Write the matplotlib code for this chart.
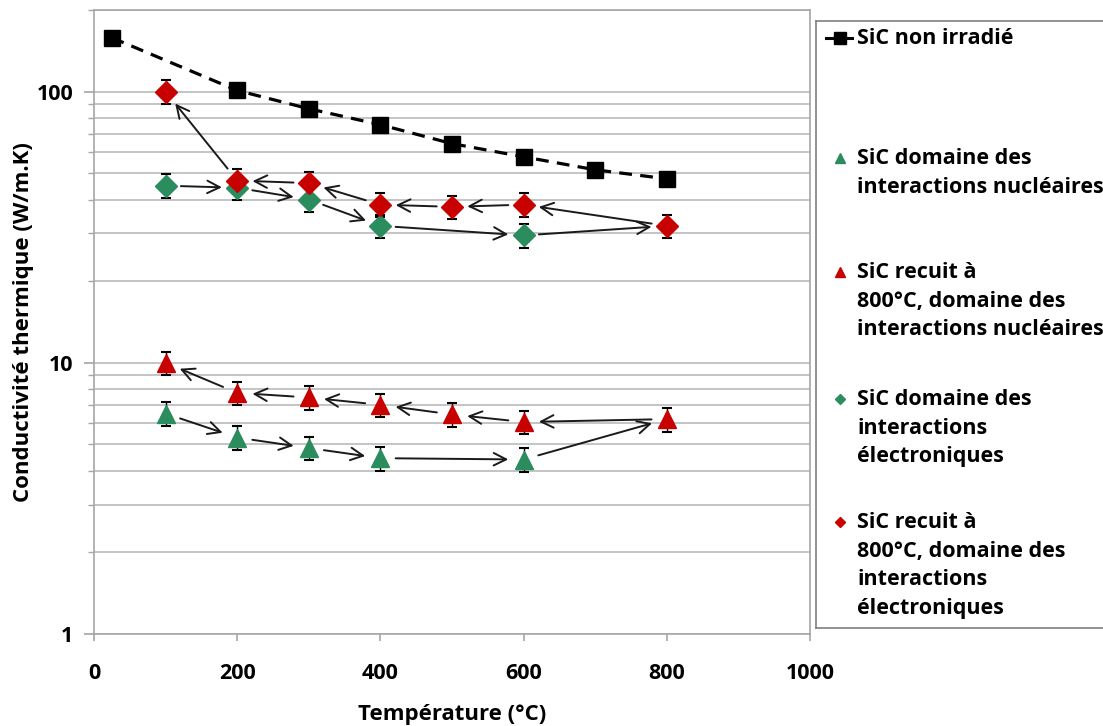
import matplotlib.pyplot as plt
from matplotlib.ticker import LogLocator, NullFormatter, FixedLocator
import numpy as np

plt.rcParams["font.family"] = ["Open Sans", "DejaVu Sans"]
plt.rcParams["font.weight"] = "bold"

# --- data ---
t_ref = [25, 200, 300, 400, 500, 600, 700, 800]
k_ref = [158, 101, 86.5, 75.5, 64.3, 57.5, 51.5, 47.7]

t_nuc = [100, 200, 300, 400, 600]
k_nuc = [6.5, 5.3, 4.85, 4.45, 4.4]

t_nuc_rec = [100, 200, 300, 400, 500, 600, 800]
k_nuc_rec = [10.0, 7.75, 7.45, 7.0, 6.45, 6.05, 6.2]

t_el = [100, 200, 300, 400, 600]
k_el = [45.0, 44.2, 40.0, 32.0, 29.5]

t_el_rec = [100, 200, 300, 400, 500, 600, 800]
k_el_rec = [100, 47.0, 46.0, 38.3, 37.6, 38.3, 32.0]

rel_err = 0.1

labels = [
    "SiC non irradié",
    "SiC domaine des\ninteractions nucléaires",
    "SiC recuit à\n800°C, domaine des\ninteractions nucléaires",
    "SiC domaine des\ninteractions\nélectroniques",
    "SiC recuit à\n800°C, domaine des\ninteractions\nélectroniques",
]

GREEN = "#2B8C5E"
RED = "#C80000"
GRID = "#BFBFBF"
FS = 15.5

W, H = 1103, 726
fig = plt.figure(figsize=(W / 100, H / 100), dpi=100)
ax = fig.add_axes([94 / W, 1 - 634 / H, (810 - 94) / W, (634 - 10) / H])

ax.set_yscale("log")
ax.set_xlim(0, 1000)
ax.set_ylim(1, 200)

# reference, dashed
ax.plot(t_ref, k_ref, ls=(0, (4, 2.6)), lw=2.3, color="black", marker="s",
        ms=12, zorder=4)

def series(t, k, marker, color, ms):
    k = np.array(k)
    ax.errorbar(t, k, yerr=k * rel_err, fmt=marker, color=color, ms=ms,
                ecolor="black", elinewidth=1, capsize=3.5, capthick=1.5,
                zorder=4)

series(t_nuc, k_nuc, "^", GREEN, 12.5)
series(t_nuc_rec, k_nuc_rec, "^", RED, 12.5)
series(t_el, k_el, "D", GREEN, 11)
series(t_el_rec, k_el_rec, "D", RED, 11)

# arrows: irradiated path then annealed path back
def arrows(t1, k1, t2, k2):
    pts = list(zip(t1, k1)) + [(t2[-1], k2[-1])]
    pts += list(zip(t2[::-1], k2[::-1]))[1:]
    for (xa, ya), (xb, yb) in zip(pts[:-1], pts[1:]):
        ax.annotate("", xy=(xb, yb), xytext=(xa, ya),
                    arrowprops=dict(arrowstyle="->,head_length=0.9,head_width=0.45",
                                    color="#1a1a1a", lw=1.4,
                                    shrinkA=11, shrinkB=11),
                    zorder=3)

arrows(t_nuc, k_nuc, t_nuc_rec, k_nuc_rec)
arrows(t_el, k_el, t_el_rec, k_el_rec)

# axes look
ax.yaxis.set_major_locator(FixedLocator([1, 10, 100]))
ax.yaxis.set_minor_locator(LogLocator(base=10, subs=np.arange(2, 10)))
ax.yaxis.set_minor_formatter(NullFormatter())
ax.set_yticklabels(["1", "10", "100"])
ax.set_xticks(np.arange(0, 1001, 200))
ax.grid(True, axis="y", which="both", color=GRID, lw=1.3)
ax.set_axisbelow(True)
for s in ax.spines.values():
    s.set_color("#A6A6A6")
    s.set_linewidth(1.2)
ax.tick_params(axis="both", which="major", labelsize=FS, color="#A6A6A6",
               width=1.2, pad=8)
ax.tick_params(axis="y", which="major", length=7)
ax.tick_params(axis="y", which="minor", length=4, color="#A6A6A6", width=1)
ax.tick_params(axis="x", which="major", length=5, pad=16)
for lab in ax.get_xticklabels() + ax.get_yticklabels():
    lab.set_fontweight("bold")

ax.set_xlabel("Température (°C)", fontsize=FS + 0.5, fontweight="bold",
              labelpad=14)
ax.set_ylabel("Conductivité thermique (W/m.K)", fontsize=FS + 0.5,
              fontweight="bold", labelpad=2)

# legend drawn in its own axes, in pixel units
lg = fig.add_axes([816 / W, 1 - 628 / H, 300 / W, (628 - 21) / H])
lg.set_xlim(816, 1116)
lg.set_ylim(628, 21)
lg.set_xticks([])
lg.set_yticks([])
for s in lg.spines.values():
    s.set_color("#7F7F7F")
    s.set_linewidth(1.2)

entry_y = [38, 158, 272, 399, 522]
handles = [("s", "black", 8), ("^", GREEN, 7), ("^", RED, 7),
           ("D", GREEN, 5.5), ("D", RED, 5.5)]
for i, (y, lab, (m, c, s)) in enumerate(zip(entry_y, labels, handles)):
    if i == 0:
        lg.plot([826, 852], [y, y], color="black", lw=2.2)
    lg.plot([840], [y], marker=m, color=c, ms=s, ls="none")
    lg.text(857, y - 10, lab, fontsize=FS, fontweight="bold", va="top",
            ha="left", linespacing=1.47)

fig.savefig("out.png", dpi=100)
